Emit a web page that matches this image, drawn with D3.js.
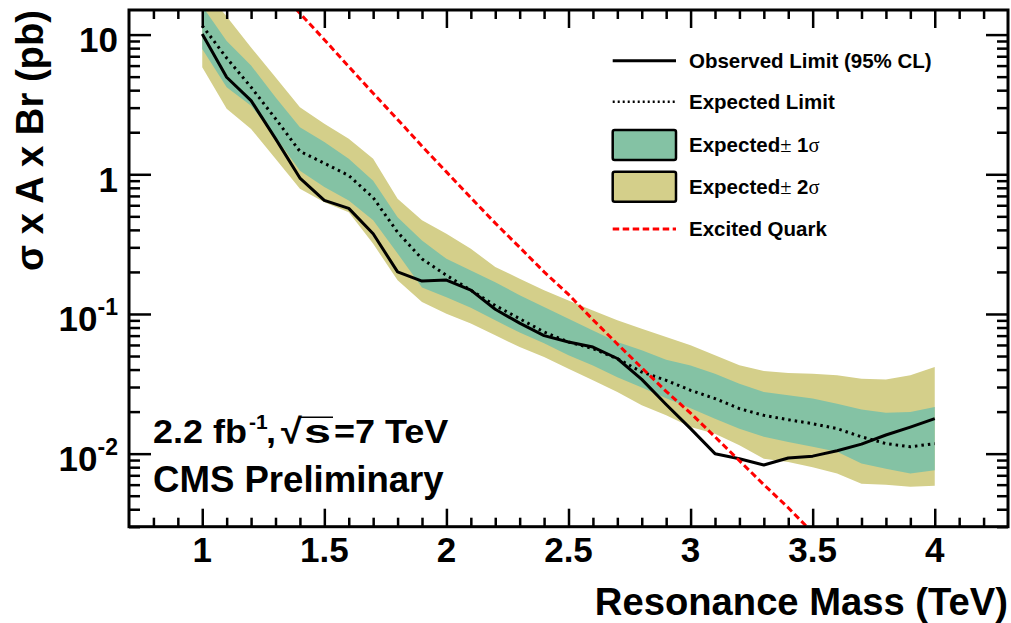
<!DOCTYPE html>
<html>
<head>
<meta charset="utf-8">
<script src="https://cdn.jsdelivr.net/npm/d3@7"></script>
<style>
body { margin: 0; background: #fff; }
text { font-family: "Liberation Sans", Arial, Helvetica, sans-serif; font-weight: bold; fill: #000; }
</style>
</head>
<body>
<div id="chart"></div>
<script>
// resonance mass points (TeV)
var mass = [1.0, 1.1, 1.2, 1.3, 1.4, 1.5, 1.6, 1.7, 1.8, 1.9, 2.0,
            2.1, 2.2, 2.3, 2.4, 2.5, 2.6, 2.7, 2.8, 2.9, 3.0,
            3.1, 3.2, 3.3, 3.4, 3.5, 3.6, 3.7, 3.8, 3.9, 4.0];

var observed = [10.1, 4.95, 3.37, 1.8, 0.94, 0.65, 0.57, 0.375, 0.20, 0.172, 0.175,
                0.148, 0.108, 0.086, 0.070, 0.063, 0.058, 0.048, 0.034, 0.0225, 0.0151,
                0.0100, 0.0092, 0.0083, 0.0093, 0.0096, 0.0105, 0.0117, 0.0136, 0.0155, 0.0178];

var expected = [11.6, 6.8, 4.2, 2.5, 1.46, 1.2, 0.98, 0.68, 0.385, 0.248, 0.189,
                0.148, 0.115, 0.0925, 0.0743, 0.063, 0.0565, 0.0479, 0.0384, 0.0335, 0.0284,
                0.0248, 0.021, 0.0188, 0.0175, 0.0164, 0.0151, 0.0132, 0.0118, 0.0112, 0.0118];

var exp1Lo = [7.9, 4.2, 3.1, 1.85, 1.06, 0.81, 0.65, 0.468, 0.271, 0.155, 0.1315,
              0.111, 0.090, 0.0738, 0.0616, 0.0506, 0.0428, 0.0352, 0.0298, 0.0249, 0.0211,
              0.0178, 0.0151, 0.0132, 0.0121, 0.0112, 0.0103, 0.0085, 0.0078, 0.0072, 0.0076];

var exp1Hi = [16, 9.0, 6.0, 3.56, 2.17, 1.70, 1.29, 0.90, 0.493, 0.336, 0.248,
              0.205, 0.169, 0.136, 0.112, 0.0925, 0.0763, 0.063, 0.055, 0.047, 0.0428,
              0.0374, 0.0317, 0.0276, 0.0262, 0.0248, 0.0228, 0.0207, 0.0196, 0.0199, 0.0216];

var exp2Lo = [5.84, 2.94, 2.11, 1.29, 0.787, 0.63, 0.535, 0.318, 0.174, 0.1216, 0.1005,
              0.0853, 0.0703, 0.058, 0.0492, 0.0406, 0.0335, 0.0276, 0.0222, 0.0188, 0.0155,
              0.0139, 0.0115, 0.0092, 0.0087, 0.0080, 0.0072, 0.0061, 0.0060, 0.0058, 0.0059];

var exp2Hi = [22, 13.5, 8.1, 4.95, 3.02, 2.30, 1.80, 1.29, 0.668, 0.468, 0.375,
              0.293, 0.217, 0.179, 0.148, 0.125, 0.106, 0.090, 0.0785, 0.0684, 0.0596,
              0.0506, 0.0429, 0.0391, 0.0378, 0.0374, 0.0364, 0.0344, 0.0339, 0.0364, 0.0417];

// excited quark theory curve
var qMass = [1.3, 1.4, 1.5, 1.6, 1.7, 1.8, 1.9, 2.0, 2.1, 2.2, 2.3, 2.4,
             2.5, 2.6, 2.7, 2.8, 2.9, 3.0, 3.1, 3.2, 3.3, 3.4, 3.5];
var qXsec = [22, 14.2, 9.2, 5.9, 3.8, 2.47, 1.59, 1.04, 0.68, 0.447, 0.30, 0.20,
             0.138, 0.091, 0.061, 0.0412, 0.0279, 0.0195, 0.0132, 0.0089, 0.0060, 0.0041, 0.00272];

var xTickVals = [1, 1.5, 2, 2.5, 3, 3.5, 4];
var xTickLabels = ["1", "1.5", "2", "2.5", "3", "3.5", "4"];
var yTickVals = [0.01, 0.1, 1, 10];
var yTickBase = ["10", "10", "1", "10"];
var yTickExp = ["-2", "-1", "", ""];

var legendLabels = ["Observed Limit (95% CL)", "Expected Limit", "Expected", "Expected", "Excited Quark"];

var width = 1011, height = 623;
var plotLeft = 129, plotRight = 1008, plotTop = 10, plotBottom = 526.7;

var green = "#84c2a4", yellow = "#d4cf8a";

var svg = d3.select("#chart").append("svg")
            .attr("width", width)
            .attr("height", height);

var x = d3.scaleLinear().domain([0.7, 4.3]).range([plotLeft, plotRight]);
var y = d3.scaleLog().domain([0.003, 15]).range([plotBottom, plotTop]);

svg.append("clipPath").attr("id", "plotClip")
   .append("rect")
   .attr("x", plotLeft).attr("y", plotTop)
   .attr("width", plotRight - plotLeft).attr("height", plotBottom - plotTop);

var plot = svg.append("g").attr("clip-path", "url(#plotClip)");

var idx = d3.range(mass.length);

var area2 = d3.area()
              .x(function(i) { return x(mass[i]); })
              .y0(function(i) { return y(exp2Lo[i]); })
              .y1(function(i) { return y(exp2Hi[i]); });
var area1 = d3.area()
              .x(function(i) { return x(mass[i]); })
              .y0(function(i) { return y(exp1Lo[i]); })
              .y1(function(i) { return y(exp1Hi[i]); });

plot.append("path").attr("d", area2(idx)).attr("fill", yellow);
plot.append("path").attr("d", area1(idx)).attr("fill", green);

function seriesLine(vals, xs) {
  return d3.line()
           .x(function(d, i) { return x(xs[i]); })
           .y(function(d) { return y(d); })(vals);
}

plot.append("path")
    .attr("d", seriesLine(expected, mass))
    .attr("fill", "none")
    .attr("stroke", "#000")
    .attr("stroke-width", 3)
    .attr("stroke-dasharray", "2.5,4");

plot.append("path")
    .attr("d", seriesLine(observed, mass))
    .attr("fill", "none")
    .attr("stroke", "#000")
    .attr("stroke-width", 3)
    .attr("stroke-linejoin", "round");

plot.append("path")
    .attr("d", seriesLine(qXsec, qMass))
    .attr("fill", "none")
    .attr("stroke", "#ff0000")
    .attr("stroke-width", 3)
    .attr("stroke-dasharray", "6.5,3.5");

// axes: ticks point into the frame on all four sides
var xMinor = d3.range(0.8, 4.25, 0.1).filter(function(v) { return Math.abs(v * 2 - Math.round(v * 2)) > 0.01; });
var yMinor = [];
[0.001, 0.01, 0.1, 1, 10].forEach(function(dec) {
  for (var k = 2; k <= 9; k++) {
    var v = dec * k;
    if (v >= 0.003 && v <= 15) yMinor.push(v);
  }
});

function styleAxis(g) {
  g.select(".domain").remove();
  g.selectAll(".tick line").attr("stroke", "#000").attr("stroke-width", 2.5);
  g.selectAll(".tick text").remove();
}

svg.append("g").attr("transform", "translate(0," + plotBottom + ")")
   .call(d3.axisBottom(x).tickValues(xTickVals).tickSizeInner(-18).tickSizeOuter(0)).call(styleAxis);
svg.append("g").attr("transform", "translate(0," + plotBottom + ")")
   .call(d3.axisBottom(x).tickValues(xMinor).tickSizeInner(-9).tickSizeOuter(0)).call(styleAxis);
svg.append("g").attr("transform", "translate(0," + plotTop + ")")
   .call(d3.axisTop(x).tickValues(xTickVals).tickSizeInner(-18).tickSizeOuter(0)).call(styleAxis);
svg.append("g").attr("transform", "translate(0," + plotTop + ")")
   .call(d3.axisTop(x).tickValues(xMinor).tickSizeInner(-9).tickSizeOuter(0)).call(styleAxis);

svg.append("g").attr("transform", "translate(" + plotLeft + ",0)")
   .call(d3.axisLeft(y).tickValues(yTickVals).tickSizeInner(-22).tickSizeOuter(0)).call(styleAxis);
svg.append("g").attr("transform", "translate(" + plotLeft + ",0)")
   .call(d3.axisLeft(y).tickValues(yMinor).tickSizeInner(-11).tickSizeOuter(0)).call(styleAxis);
svg.append("g").attr("transform", "translate(" + plotRight + ",0)")
   .call(d3.axisRight(y).tickValues(yTickVals).tickSizeInner(-22).tickSizeOuter(0)).call(styleAxis);
svg.append("g").attr("transform", "translate(" + plotRight + ",0)")
   .call(d3.axisRight(y).tickValues(yMinor).tickSizeInner(-11).tickSizeOuter(0)).call(styleAxis);

svg.append("rect")
   .attr("x", plotLeft).attr("y", plotTop)
   .attr("width", plotRight - plotLeft).attr("height", plotBottom - plotTop)
   .attr("fill", "none").attr("stroke", "#000").attr("stroke-width", 3);

// tick labels
svg.selectAll(".xlab")
   .data(xTickVals)
   .enter()
   .append("text")
   .attr("class", "xlab")
   .attr("x", function(d) { return x(d); })
   .attr("y", 562)
   .attr("text-anchor", "middle")
   .attr("font-size", 35)
   .text(function(d, i) { return xTickLabels[i]; });

var ylab = svg.selectAll(".ylab")
   .data(yTickVals)
   .enter()
   .append("text")
   .attr("class", "ylab")
   .attr("x", 118)
   .attr("y", function(d) { return y(d) + 17.5; })
   .attr("text-anchor", "end")
   .attr("font-size", 35);
ylab.append("tspan").text(function(d, i) { return yTickBase[i]; });
ylab.append("tspan")
    .attr("dy", -16)
    .attr("font-size", 23)
    .text(function(d, i) { return yTickExp[i]; });

// axis titles
svg.append("text")
   .attr("x", 1008)
   .attr("y", 615)
   .attr("text-anchor", "end")
   .attr("font-size", 38.2)
   .text("Resonance Mass (TeV)");

svg.append("text")
   .attr("transform", "translate(43,10) rotate(-90)")
   .attr("text-anchor", "end")
   .attr("font-size", 38.2)
   .text("\u03c3 x A x Br (pb)");

// lumi + label (ROOT latex pieces placed one by one)
var lumi = svg.append("g").attr("transform", "translate(0,443) scale(1,0.92)");
lumi.append("text").attr("x", 153).attr("y", 0).attr("font-size", 36).text("2.2 fb");
lumi.append("text").attr("x", 249).attr("y", -15).attr("font-size", 21).text("-1");
lumi.append("text").attr("x", 266).attr("y", 0).attr("font-size", 36).text(",");
lumi.append("text").attr("x", 281).attr("y", 0).attr("font-size", 38)
    .attr("font-weight", "normal").text("\u221a");
lumi.append("text").attr("x", 304).attr("y", 0).attr("font-size", 36)
    .attr("textLength", 27).attr("lengthAdjust", "spacingAndGlyphs").text("s");
lumi.append("line").attr("x1", 300).attr("x2", 333).attr("y1", -28).attr("y2", -28)
    .attr("stroke", "#000").attr("stroke-width", 1.6);
lumi.append("text").attr("x", 334).attr("y", 0).attr("font-size", 36).text("=7 TeV");

svg.append("text")
   .attr("x", 153).attr("y", 491.7)
   .attr("font-size", 36.6)
   .text("CMS Preliminary");

// legend
var legX0 = 612.7, legX1 = 676, legTextX = 689;
var legRowY = [60.7, 101.7, 145, 186.7, 229];

var leg = svg.append("g");
leg.append("line")
   .attr("x1", legX0).attr("x2", legX1)
   .attr("y1", legRowY[0]).attr("y2", legRowY[0])
   .attr("stroke", "#000").attr("stroke-width", 3);
leg.append("line")
   .attr("x1", legX0).attr("x2", legX1)
   .attr("y1", legRowY[1]).attr("y2", legRowY[1])
   .attr("stroke", "#000").attr("stroke-width", 2.5)
   .attr("stroke-dasharray", "2,3");
leg.append("rect")
   .attr("x", legX0).attr("y", legRowY[2] - 15)
   .attr("width", legX1 - legX0).attr("height", 30)
   .attr("rx", 2)
   .attr("fill", green).attr("stroke", "#000").attr("stroke-width", 2.5);
leg.append("rect")
   .attr("x", legX0).attr("y", legRowY[3] - 15)
   .attr("width", legX1 - legX0).attr("height", 30)
   .attr("rx", 2)
   .attr("fill", yellow).attr("stroke", "#000").attr("stroke-width", 2.5);
leg.append("line")
   .attr("x1", legX0).attr("x2", legX1)
   .attr("y1", legRowY[4]).attr("y2", legRowY[4])
   .attr("stroke", "#ff0000").attr("stroke-width", 3)
   .attr("stroke-dasharray", "6.5,3.5");

var legText = leg.selectAll(".legtext")
   .data(legendLabels)
   .enter()
   .append("text")
   .attr("class", "legtext")
   .attr("x", legTextX)
   .attr("y", function(d, i) { return legRowY[i] + 7.3; })
   .attr("font-size", 20.5);
legText.append("tspan").text(function(d) { return d; });
legText.filter(function(d, i) { return i == 2 || i == 3; })
   .each(function(d, i) {
     var t = d3.select(this);
     t.append("tspan").attr("font-weight", "normal").attr("font-family", "Liberation Serif").text("\u00b1");
     t.append("tspan").text(" " + (i + 1));
     t.append("tspan").attr("font-weight", "normal").attr("font-family", "Liberation Serif").text("\u03c3");
   });
</script>
</body>
</html>
